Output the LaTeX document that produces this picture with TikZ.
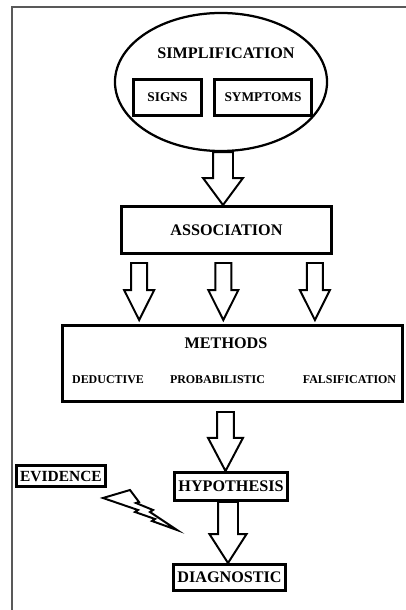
\documentclass[tikz,border=0pt]{standalone}
\usepackage{fontspec}
\setmainfont{Liberation Serif}
\usetikzlibrary{calc}
\usetikzlibrary{positioning}
\usetikzlibrary{shapes.geometric}

\begin{document}
\begin{tikzpicture}[x=0.025cm,y=-0.025cm,line join=miter,
                    box/.style={draw,line width=2.1pt,inner sep=0pt,font=\bfseries\fontsize{11.5}{13}\selectfont},
                    small box/.style={box,font=\bfseries\fontsize{9.5}{11}\selectfont},
                    title/.style={font=\bfseries\fontsize{11.5}{13}\selectfont},
                    method/.style={font=\bfseries\fontsize{8.5}{10}\selectfont},
                    fat arrow/.style args={#1/#2/#3}{line width=1.4pt,
                      to path={let \p1=(\tikztostart), \p2=(\tikztotarget) in
                        (\x1-#1,\y1) -- (\x1-#1,\y2+#3) -- (\x1-#2,\y2+#3) -- (\x1,\y2)
                        -- (\x1+#2,\y2+#3) -- (\x1+#1,\y2+#3) -- (\x1+#1,\y1) -- cycle}}]

  \useasboundingbox (0,0) rectangle (406,610);
  \draw[gray!70!black,line width=1pt] (12,610) -- (12,7) -- (406,7);

  % simplification
  \node[ellipse,draw,line width=1.6pt,minimum width=5.3cm,minimum height=3.45cm] (simp) at (221,82) {};
  \node[title] (simptitle) at (226,53) {SIMPLIFICATION};
  \node[small box,minimum width=1.7cm,minimum height=0.9cm] (signs) at (167.5,97.5) {SIGNS};
  \node[small box,minimum width=2.425cm,minimum height=0.9cm] (symp) at (263,97.5) {SYMPTOMS};

  \node[box,minimum width=5.25cm,minimum height=1.175cm] (assoc) at (226.5,230) {ASSOCIATION};

  % methods
  \node[box,minimum width=8.5cm,minimum height=1.9cm] (methods) at (232.5,363.5) {};
  \node[title] (methtitle) at (226,343) {METHODS};
  \node[method] (dedu) at (108,380) {DEDUCTIVE};
  \node[method] (prob) at (217.5,380) {PROBABILISTIC};
  \node[method] (fals) at (349.5,380) {FALSIFICATION};

  \node[box,minimum width=2.825cm,minimum height=0.7cm] (hyp) at (231,486.5) {HYPOTHESIS};
  \node[box,minimum width=2.8cm,minimum height=0.65cm] (diag) at (229.5,577.5) {DIAGNOSTIC};
  \node[box,minimum width=2.225cm,minimum height=0.525cm,font=\bfseries\fontsize{11}{13}\selectfont] (evid) at (61,476) {EVIDENCE};

  \draw[fat arrow=7.1pt/14.2pt/19.2pt] ($(simp.south)+(2,0)$) to (assoc.north);
  \foreach \f in {0.09,0.485,0.915}
    \draw[fat arrow=5.7pt/10.7pt/21.3pt] ($(assoc.south west)!\f!(assoc.south east)+(0,8)$) to ($(methods.north)+(0,-4)$);
  \draw[fat arrow=6pt/12.4pt/23.5pt] ($(methods.south)+(-7,9)$) to (hyp.north);
  \draw[fat arrow=7.1pt/13.2pt/20.6pt] ($(hyp.south)+(-3,0)$) to (diag.north);

  % evidence bolt
  \draw[line width=1.4pt] (103,498) -- (130,490) -- (139,502) -- (136,503) -- (153,510) -- (150,512)
    -- (177,530) -- (152,521) -- (155,519) -- (135,512) -- (138,510) -- cycle;
\end{tikzpicture}
\end{document}
